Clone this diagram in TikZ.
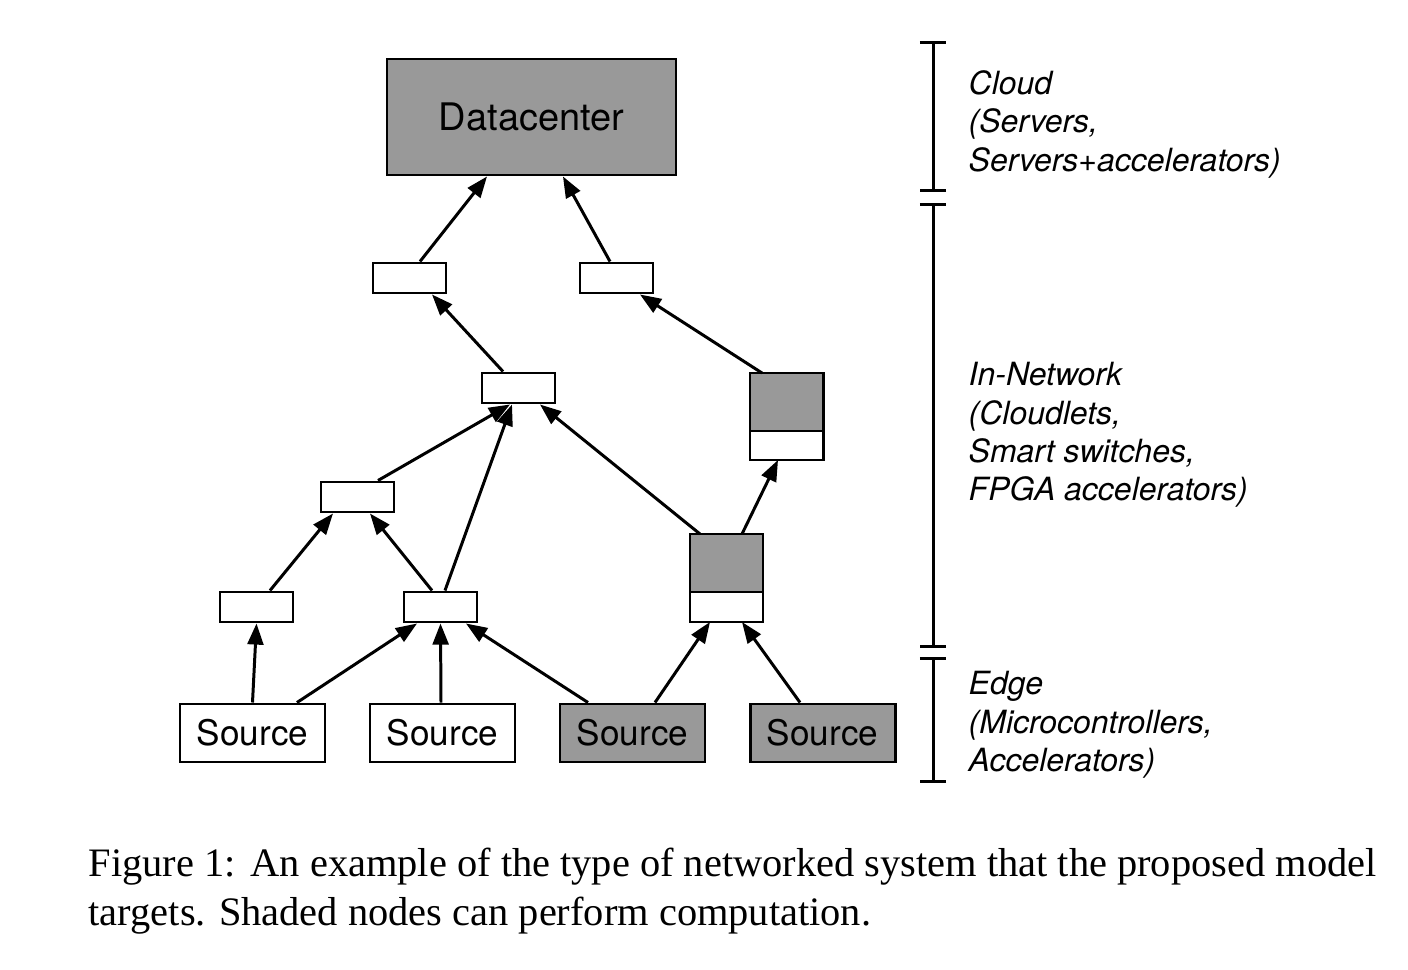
\documentclass[tikz,border=0pt]{standalone}
\usepackage{fontspec}
\newfontfamily\diagfont{TeX Gyre Heros}
\newfontfamily\capfont{Liberation Serif}
\definecolor{nodegray}{RGB}{153,153,153}
\usepackage{tikz}
\usetikzlibrary{arrows.meta}
\tikzset{
  hop/.style={rectangle,draw=black,line width=0.85pt,fill=#1,
              minimum width=7.3mm,minimum height=3mm,inner sep=0pt},
  hop/.default=white,
  cmp/.style={rectangle,draw=black,line width=0.85pt,fill=nodegray,
              minimum width=7.3mm,minimum height=5.8mm,inner sep=0pt,
              outer sep=0pt},
  src/.style={rectangle,draw=black,line width=0.85pt,fill=#1,
              minimum width=14.5mm,minimum height=5.8mm,inner sep=0pt,
              font=\diagfont\fontsize{10}{11}\selectfont},
  src/.default=white,
  arr/.style={-{Triangle[length=6pt,width=4.5pt]},line width=0.85pt},
  tier/.style={{Bar[width=7.5pt]}-{Bar[width=7.5pt]},line width=0.85pt},
  tierlab/.style={anchor=west,align=left,inner sep=0pt,
                  font=\diagfont\itshape\fontsize{9.1}{10.95}\selectfont},
}
\begin{document}
\begin{tikzpicture}
  \useasboundingbox (0,0) rectangle (14.08,-9.70);
  \node[src=nodegray,minimum width=28.9mm,minimum height=11.6mm,
        font=\diagfont\fontsize{10.8}{12}\selectfont] (dc) at (5.315,-1.17) {Datacenter};
  \node[hop] (s1) at (4.095,-2.78) {};
  \node[hop] (s2) at (6.165,-2.78) {};
  \node[hop] (m) at (5.185,-3.88) {};
  \node[hop] (l) at (3.575,-4.97) {};
  \node[hop] (b1) at (2.565,-6.07) {};
  \node[hop] (b2) at (4.405,-6.07) {};
  \node[cmp] (c1) at (7.865,-4.02) {};
  \node[hop,anchor=north,outer sep=0pt,minimum height=2.9mm] (c1b) at (c1.south) {};
  \node[cmp] (c2) at (7.265,-5.63) {};
  \node[hop,anchor=north,outer sep=0pt] (c2b) at (c2.south) {};
  \node[src] (src1) at (2.525,-7.33) {Source};
  \node[src] (src2) at (4.425,-7.33) {Source};
  \node[src=nodegray] (src3) at (6.325,-7.33) {Source};
  \node[src=nodegray] (src4) at (8.225,-7.33) {Source};

  \draw[arr] ([xshift=1.05mm]s1.north) -- ([xshift=-4.45mm]dc.south);
  \draw[arr] ([xshift=-0.65mm]s2.north) -- ([xshift=3.15mm]dc.south);
  \draw[arr] ([xshift=-1.55mm]m.north) -- ([xshift=2.25mm]s1.south);
  \draw[arr] ([xshift=-2.45mm]c1.north) -- ([xshift=2.35mm]s2.south);
  \draw[arr] ([xshift=2.05mm]l.north) -- ([xshift=-0.85mm]m.south);
  \draw[arr] ([xshift=0.45mm]b2.north) -- ([xshift=-0.65mm]m.south);
  \draw[arr] ([xshift=-2.65mm]c2.north) -- ([xshift=2.15mm]m.south);
  \draw[arr] ([xshift=1.55mm]c2.north) -- ([xshift=-0.85mm]c1b.south);
  \draw[arr] ([xshift=1.35mm]b1.north) -- ([xshift=-2.45mm]l.south);
  \draw[arr] ([xshift=-0.85mm]b2.north) -- ([xshift=1.25mm]l.south);
  \draw[arr] (src1.north) -- (b1.south);
  \draw[arr] ([xshift=4.45mm]src1.north) -- ([xshift=-2.35mm]b2.south);
  \draw[arr] ([xshift=-0.15mm]src2.north) -- (b2.south);
  \draw[arr] ([xshift=-4.45mm]src3.north) -- ([xshift=2.55mm]b2.south);
  \draw[arr] ([xshift=2.25mm]src3.north) -- ([xshift=-1.65mm]c2b.south);
  \draw[arr] ([xshift=-2.25mm]src4.north) -- ([xshift=1.55mm]c2b.south);

  \coordinate (cloudtop) at (9.33,-0.41);
  \coordinate (cloudbot) at (9.33,-1.92);
  \coordinate (nettop) at (9.33,-2.03);
  \coordinate (netbot) at (9.33,-6.48);
  \coordinate (edgetop) at (9.33,-6.57);
  \coordinate (edgebot) at (9.33,-7.83);
  \draw[tier] (cloudtop) -- (cloudbot);
  \draw[tier] (nettop) -- (netbot);
  \draw[tier] (edgetop) -- (edgebot);
  \node[tierlab] (cloudlab) at (9.68,-1.24) {Cloud\\(Servers,\\Servers+accelerators)};
  \node[tierlab] (netlab) at (9.68,-4.35) {In-Network\\(Cloudlets,\\Smart switches,\\FPGA accelerators)};
  \node[tierlab] (edgelab) at (9.68,-7.25) {Edge\\(Microcontrollers,\\Accelerators)};

  \node[anchor=west,align=left,inner sep=0pt,
        font=\capfont\fontsize{11.5}{13.9}\selectfont] (caption) at (0.88,-8.91)
    {Figure 1:\hspace{0.37em}An example of the type of networked system that the proposed model\\
     targets.\hspace{0.33em}Shaded nodes can perform computation.};
\end{tikzpicture}
\end{document}
